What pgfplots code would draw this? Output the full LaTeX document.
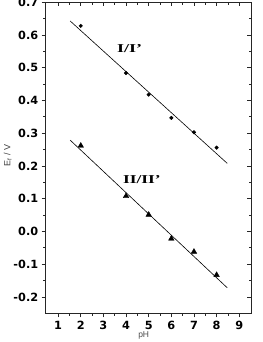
\documentclass[border=0pt]{standalone}
\usepackage{pgfplots}
\pgfplotsset{compat=1.18}
\usepackage{fontspec}
\setmainfont{Liberation Sans}
\newfontfamily\tickfont{DejaVu Sans}
\newfontfamily\labserif{Liberation Serif}
\begin{document}
\begin{tikzpicture}
\begin{axis}[
  name=main,
  at={(0pt,0pt)}, anchor=south west,
  scale only axis, width=205.3pt, height=311pt,
  xmin=0.45, xmax=9.52, ymin=-0.25, ymax=0.7,
  xtick={1,2,3,4,5,6,7,8,9},
  ytick={-0.2,-0.1,0,0.1,0.2,0.3,0.4,0.5,0.6,0.7},
  yticklabels={-0.2,-0.1,0.0,0.1,0.2,0.3,0.4,0.5,0.6,0.7},
  minor x tick num=1, minor y tick num=1,
  tick align=outside, xtick pos=bottom, ytick pos=left,
  major tick length=4pt, minor tick length=2.5pt,
  /pgf/number format/assume math mode=true,
  tick label style={font=\tickfont\bfseries\fontsize{11.3}{12}\selectfont},
  xticklabel style={yshift=-0.5pt},
  yticklabel style={xshift=0pt},
  axis line style={line width=0.9pt, black!85},
  tick style={line width=0.8pt, black!85},
  clip=false,
]
\addplot[black, line width=0.6pt] coordinates {(1.53,0.643) (8.47,0.208)};
\addplot[black, line width=0.6pt] coordinates {(1.53,0.279) (8.47,-0.172)};
\addplot[only marks, mark=*, mark size=1.8pt, black] coordinates {
(2,0.628) (4,0.484) (5,0.418) (6,0.347) (7,0.303) (8,0.256)};
\addplot[only marks, mark=triangle*, mark size=3.2pt, black] coordinates {
(2,0.262) (4,0.108) (5,0.051) (6,-0.022) (7,-0.062) (8,-0.133)};
\node[font=\labserif\bfseries\fontsize{12}{14}\selectfont] at (axis cs:4.16,0.558) {\scalebox{1.5}[1]{I/I’}};
\node[font=\labserif\bfseries\fontsize{12}{14}\selectfont] at (axis cs:4.70,0.158) {\scalebox{1.45}[1]{II/II’}};
\node[rotate=90, font=\fontsize{9}{10}\selectfont, text=black!75] at (-38pt,158pt) {E$_\mathrm{f}$ / V};
\node[anchor=north, inner sep=0pt, font=\fontsize{8.5}{10}\selectfont, text=black!70] at (98pt,-18.5pt) {pH};
\end{axis}
\begin{axis}[
  at={(0pt,0pt)}, anchor=south west,
  scale only axis, width=205.3pt, height=311pt,
  xmin=0.45, xmax=9.52, ymin=-0.25, ymax=0.7,
  xtick={1,2,3,4,5,6,7,8,9},
  ytick={-0.2,-0.1,0,0.1,0.2,0.3,0.4,0.5,0.6,0.7},
  minor x tick num=1, minor y tick num=1,
  tick align=inside, xtick pos=top, ytick pos=right,
  major tick length=4pt, minor tick length=2.5pt,
  xticklabels={}, yticklabels={},
  axis line style={line width=0.9pt, black!85},
  tick style={line width=0.8pt, black!85},
]
\end{axis}
\pgfresetboundingbox
\path[use as bounding box] (-45.7pt,-28.7pt) rectangle (216.3pt,313.3pt);
\end{tikzpicture}
\end{document}
